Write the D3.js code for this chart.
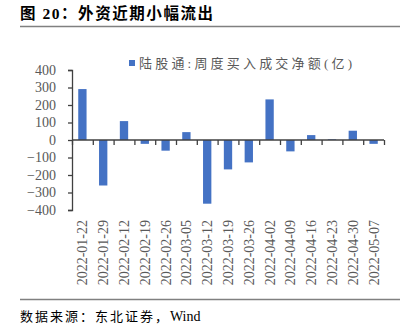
<!DOCTYPE html>
<html><head><meta charset="utf-8">
<script src="https://cdn.jsdelivr.net/npm/d3@7"></script>
<style>
html,body{margin:0;padding:0;background:#fff;}
svg{display:block;}
</style></head>
<body>
<svg id="c" width="405" height="331"></svg>
<script>
const categories = ["2022-01-22","2022-01-29","2022-02-12","2022-02-19","2022-02-26","2022-03-05","2022-03-12","2022-03-19","2022-03-26","2022-04-02","2022-04-09","2022-04-16","2022-04-23","2022-04-30","2022-05-07"];
const netBuy = [291,-260,108,-22,-61,45,-364,-168,-128,232,-65,28,4,53,-22];
const yTicks = [-400,-300,-200,-100,0,100,200,300,400];
const seriesName = "陆股通:周度买入成交净额(亿)";
const titleText = "图 20：外资近期小幅流出";
const sourcePrefix = "数据来源：东北证券，";
const sourceSuffix = "Wind";

const svg = d3.select("#c");
const serif = "'Liberation Serif','Times New Roman','Noto Sans CJK SC',serif";
const cjk = "'Liberation Serif','Noto Sans CJK SC',sans-serif";

const x = d3.scaleBand().domain(categories).range([72,384]).paddingInner(0.6).paddingOuter(0.3);
const y = d3.scaleLinear().domain([-400,400]).range([210,70]);
const xb = d3.scaleLinear().domain([0,categories.length]).range([72,384]);

// title
svg.append("text").attr("x",20).attr("y",19).attr("font-family",cjk).attr("font-weight","bold")
  .attr("font-size",15.5).attr("fill","#000").attr("textLength",193).attr("lengthAdjust","spacing").text(titleText);
svg.append("line").attr("x1",20).attr("x2",400).attr("y1",26.5).attr("y2",26.5).attr("stroke","#808080").attr("stroke-width",1.5);

// legend
svg.append("rect").attr("x",129).attr("y",60).attr("width",6).attr("height",6).attr("fill","#4472C4");
svg.append("text").attr("x",139).attr("y",67.5).attr("font-family",cjk).attr("font-size",13)
  .attr("fill","#595959").attr("textLength",213).attr("lengthAdjust","spacing").text(seriesName);

// bars
svg.append("g").selectAll("rect").data(categories).join("rect")
  .attr("x",d=>x(d)).attr("width",x.bandwidth())
  .attr("y",(d,i)=>y(Math.max(0,netBuy[i])))
  .attr("height",(d,i)=>Math.abs(y(netBuy[i])-y(0)))
  .attr("fill","#4472C4");

// y axis
const ya = svg.append("g").attr("transform","translate(72,0)")
  .call(d3.axisLeft(y).tickValues(yTicks).tickSize(4).tickPadding(12).tickFormat(d3.format("d")));
ya.select(".domain").attr("stroke","#404040").attr("stroke-width",1.3);
ya.selectAll(".tick line").attr("stroke","#404040").attr("stroke-width",1.3);
ya.selectAll("text").attr("font-family",serif).attr("font-size",14).attr("fill","#595959");

// x zero axis with boundary ticks
const xa = svg.append("g").attr("transform",`translate(0,${y(0)})`)
  .call(d3.axisBottom(xb).tickValues(d3.range(0,categories.length+1)).tickSize(5).tickFormat(""));
xa.select(".domain").attr("stroke","#404040").attr("stroke-width",1.3).attr("d",`M72,0H384`);
xa.selectAll(".tick line").attr("stroke","#404040").attr("stroke-width",1.3);

// x labels at bottom
const xl = svg.append("g").attr("transform","translate(0,210)")
  .call(d3.axisBottom(x).tickSize(0).tickPadding(0));
xl.select(".domain").remove();
xl.selectAll("text").attr("font-family",serif).attr("font-size",14).attr("fill","#595959")
  .attr("text-anchor","end").attr("dy","0.35em").attr("dx",0)
  .attr("transform","translate(0,10) rotate(-90)").attr("y",0).attr("x",0);

// footer
svg.append("line").attr("x1",20).attr("x2",400).attr("y1",299.5).attr("y2",299.5).attr("stroke","#808080").attr("stroke-width",1.5);
const ft = svg.append("text").attr("x",20).attr("y",321).attr("font-family",cjk).attr("font-size",13).attr("fill","#000");
ft.append("tspan").attr("textLength",148).attr("lengthAdjust","spacing").text(sourcePrefix);
ft.append("tspan").attr("font-size",14).text(sourceSuffix);
</script>
</body></html>
